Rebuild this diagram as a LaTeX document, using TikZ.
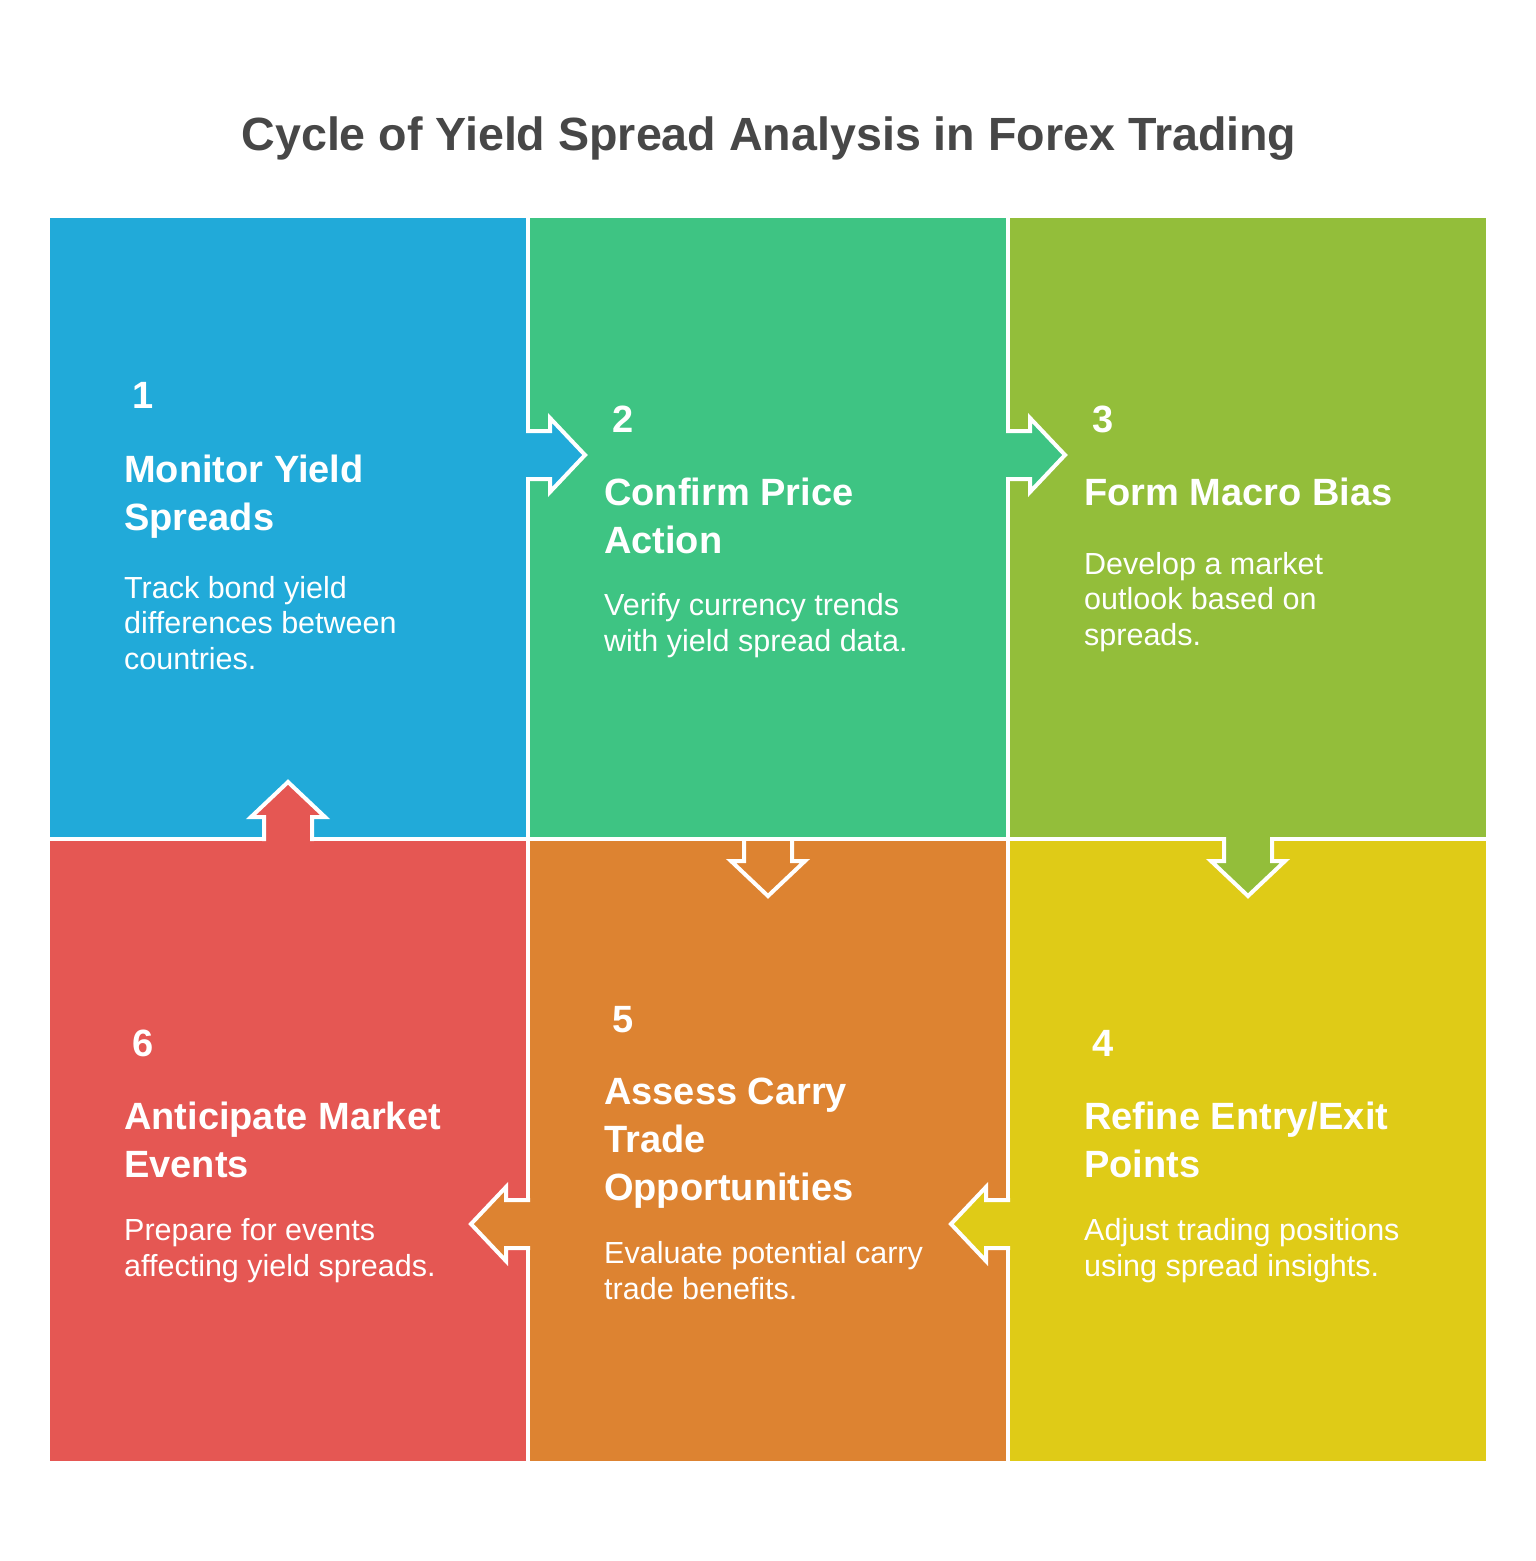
\documentclass[tikz,border=0pt]{standalone}
\usepackage{fontspec}
\setmainfont{Liberation Sans}
\definecolor{tileblue}{HTML}{21AAD9}
\definecolor{tilegreen}{HTML}{3EC483}
\definecolor{tileolive}{HTML}{93BE3A}
\definecolor{tileyellow}{HTML}{DFCB17}
\definecolor{tileorange}{HTML}{DD8331}
\definecolor{tilered}{HTML}{E55753}
\definecolor{titlegray}{HTML}{474747}
\tikzset{
    numtext/.style={anchor=base west, inner sep=0pt, text=white, font=\bfseries\fontsize{38}{46}\selectfont},
    headtext/.style={anchor=base west, inner sep=0pt, align=left, text=white, font=\bfseries\fontsize{38}{48}\selectfont},
    bodytext/.style={anchor=base west, inner sep=0pt, align=left, text=white, font=\fontsize{30.5}{35.5}\selectfont},
    tileedge/.style={white, line width=4pt},
    arrowedge/.style={white, line width=4pt, line join=miter, line cap=rect},
}

\begin{document}
\begin{tikzpicture}[x=1pt, y=-1pt]
    \useasboundingbox (0,0) rectangle (1536,1561);
    \fill[white] (0,0) rectangle (1536,1561);
    \node[anchor=base, inner sep=0pt, text=titlegray, font=\bfseries\fontsize{46.6}{56}\selectfont] (title) at (769,150) {Cycle of Yield Spread Analysis in Forex Trading};
    % tiles
    \fill[tileblue] (50,218) rectangle (528,839);
    \fill[tilegreen] (528,218) rectangle (1008,839);
    \fill[tileolive] (1008,218) rectangle (1486,839);
    \fill[tilered] (50,839) rectangle (528,1461);
    \fill[tileorange] (528,839) rectangle (1008,1461);
    \fill[tileyellow] (1008,839) rectangle (1486,1461);
    \draw[tileedge] (528,218) -- (528,1461);
    \draw[tileedge] (1008,218) -- (1008,1461);
    \draw[tileedge] (50,839) -- (1486,839);
    % arrows reaching into the next tile
    \foreach \bx/\by/\ang/\col in {528/455/0/tileblue, 1008/455/0/tilegreen, 1248/839/-90/tileolive,
                                 1008/1224/180/tileyellow, 528/1224/180/tileorange, 288/839/90/tilered} {
        \begin{scope}[shift={(\bx,\by)}, rotate=\ang]
            \fill[\col] (-3,-24) -- (22,-24) -- (22,-37) -- (57,0) -- (22,37) -- (22,24) -- (-3,24) -- cycle;
            \draw[arrowedge] (0,-24) -- (22,-24) -- (22,-37) -- (57,0) -- (22,37) -- (22,24) -- (0,24);
        \end{scope}
    }
    % outline only arrow below tile 2
    \begin{scope}[shift={(768,839)}, rotate=-90]
        \draw[arrowedge] (0,-24) -- (22,-24) -- (22,-37) -- (57,0) -- (22,37) -- (22,24) -- (0,24);
    \end{scope}
    % texts (base = last line)
    \node[numtext] (num1) at (132,408) {1};
    \node[headtext] (head1) at (124,530) {Monitor Yield\\Spreads};
    \node[bodytext] (body1) at (124,669) {Track bond yield\\differences between\\countries.};
    \node[numtext] (num2) at (612,432) {2};
    \node[headtext] (head2) at (604,553) {Confirm Price\\Action};
    \node[bodytext] (body2) at (604,651) {Verify currency trends\\with yield spread data.};
    \node[numtext] (num3) at (1092,432) {3};
    \node[headtext] (head3) at (1084,505) {Form Macro Bias};
    \node[bodytext] (body3) at (1084,645) {Develop a market\\outlook based on\\spreads.};
    \node[numtext] (num4) at (1092,1056) {4};
    \node[headtext] (head4) at (1084,1177) {Refine Entry/Exit\\Points};
    \node[bodytext] (body4) at (1084,1276) {Adjust trading positions\\using spread insights.};
    \node[numtext] (num5) at (612,1032) {5};
    \node[headtext] (head5) at (604,1200) {Assess Carry\\Trade\\Opportunities};
    \node[bodytext] (body5) at (604,1299) {Evaluate potential carry\\trade benefits.};
    \node[numtext] (num6) at (132,1056) {6};
    \node[headtext] (head6) at (124,1177) {Anticipate Market\\Events};
    \node[bodytext] (body6) at (124,1276) {Prepare for events\\affecting yield spreads.};
\end{tikzpicture}
\end{document}
